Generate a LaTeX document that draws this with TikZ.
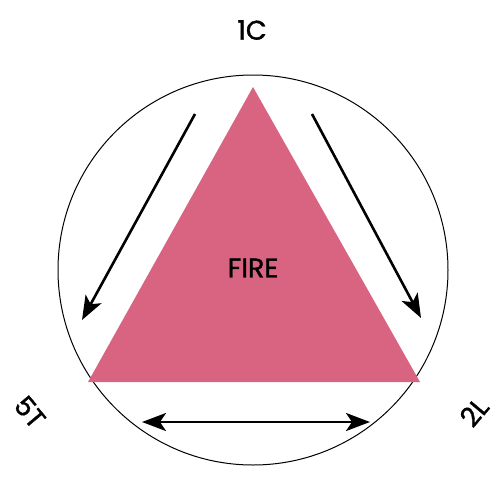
\documentclass[tikz,border=0pt]{standalone}
\usepackage{fontspec}
\setmainfont{Poppins}
\newfontfamily\lblfont{Poppins}[FakeBold=1.2]
\usetikzlibrary{arrows.meta}
\definecolor{firepink}{RGB}{216,100,130}
\begin{document}
\begin{tikzpicture}[x=1pt,y=-1pt,
  arr/.style={line width=2.6pt,-{Stealth[length=24pt,width=18pt,inset=6pt]}},
  darr/.style={line width=2.6pt,{Stealth[length=24pt,width=18pt,inset=6pt]}-{Stealth[length=24pt,width=18pt,inset=6pt]}},
  lbl/.style={font=\lblfont\fontsize{27}{30}\selectfont,inner sep=1pt}]
\useasboundingbox (0,0) rectangle (498,482);
\node[circle,draw,line width=1pt,minimum size=390pt,inner sep=0pt] (ring) at (253,270) {};
\coordinate (apex) at (253,87);
\coordinate (bl) at (88,382);
\coordinate (br) at (420,382);
\fill[firepink] (apex) -- (bl) -- (br) -- cycle;
\node[lbl] (fire) at (253,268) {FIRE};
\coordinate (la) at (195,114);
\coordinate (lb) at (82,320);
\coordinate (ra) at (312,114);
\coordinate (rb) at (421,318);
\coordinate (ba) at (142,422);
\coordinate (bb) at (370,422);
\draw[arr] (la) -- (lb);
\draw[arr] (ra) -- (rb);
\draw[darr] (ba) -- (bb);
\node[lbl] (c1) at (252,30) {1C};
\node[lbl,rotate=-50] (t5) at (30,412) {5T};
\node[lbl,rotate=50] (l2) at (474,412) {2L};
\end{tikzpicture}
\end{document}
